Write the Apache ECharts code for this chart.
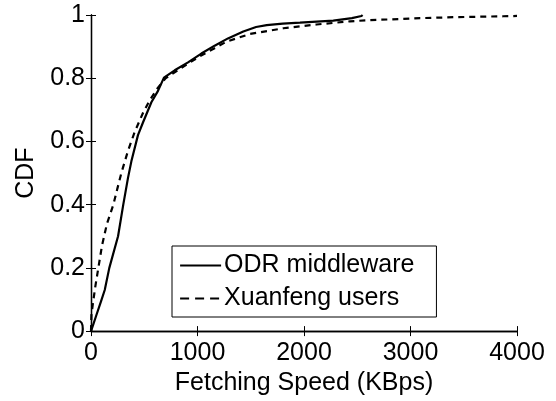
<!DOCTYPE html>
<html>
<head>
<meta charset="utf-8">
<script src="https://cdn.jsdelivr.net/npm/echarts@6/dist/echarts.min.js"></script>
<style>
  html, body { margin: 0; padding: 0; background: #fff; }
  #chart { width: 556px; height: 401px; }
</style>
</head>
<body>
<div id="chart"></div>
<script>
// CDF of fetching speed (KBps)
const odrSpeed = [0, 20, 47, 94, 129, 172, 254, 303, 347, 379, 441, 488, 567, 629, 685, 786, 911, 1036, 1161, 1286, 1430, 1550, 1650, 1800, 1962, 2275, 2450, 2540, 2550];
const odrCdf   = [0, 0.02, 0.047, 0.094, 0.13, 0.2, 0.3, 0.4, 0.484, 0.537, 0.62, 0.66, 0.724, 0.76, 0.802, 0.825, 0.85, 0.878, 0.903, 0.926, 0.948, 0.962, 0.968, 0.973, 0.976, 0.982, 0.99, 0.997, 1.0];

const xfSpeed = [0, 4, 15, 40, 69, 103, 150, 210, 247, 285, 347, 410, 488, 551, 629, 700, 800, 911, 1000, 1100, 1274, 1493, 1806, 2119, 2432, 2620, 2808, 3089, 3403, 3869, 4000];
const xfCdf   = [0, 0.05, 0.08, 0.14, 0.2, 0.27, 0.34, 0.4, 0.45, 0.5, 0.57, 0.63, 0.69, 0.73, 0.77, 0.8, 0.822, 0.846, 0.865, 0.884, 0.916, 0.94, 0.958, 0.97, 0.98, 0.984, 0.986, 0.99, 0.993, 0.996, 0.997];

const xTicks = [0, 1000, 2000, 3000, 4000];
const yTicks = [0, 0.2, 0.4, 0.6, 0.8, 1];

const seriesNames = ['ODR middleware', 'Xuanfeng users'];

const FONT = 'Liberation Sans';
const FS = 25;
const pairs = (xs, ys) => xs.map((x, i) => [x, ys[i]]);

// Frame axes: ticks point inward on all four sides, no grid
const boxAxis = (extra) => Object.assign({
  type: 'value',
  axisLine: { show: true, lineStyle: { color: '#000', width: 1.3 } },
  axisTick: { show: true, inside: true, length: 5, lineStyle: { color: '#000', width: 1 } },
  splitLine: { show: false },
  axisLabel: { show: false }
}, extra);

const chart = echarts.init(document.getElementById('chart'), null, { renderer: 'canvas' });
chart.setOption({
  backgroundColor: '#fff',
  animation: false,
  grid: { left: 91, right: 39, top: 15, bottom: 66, containLabel: false },
  xAxis: [
    boxAxis({
      position: 'bottom', min: xTicks[0], max: xTicks[xTicks.length - 1], interval: 1000,
      name: 'Fetching Speed (KBps)', nameLocation: 'middle', nameGap: 30,
      nameTextStyle: { fontFamily: FONT, fontSize: FS, color: '#000' },
      axisLabel: { show: true, margin: 10, fontFamily: FONT, fontSize: FS, color: '#000',
                   formatter: v => String(v) }
    }),
    boxAxis({ position: 'top', min: xTicks[0], max: xTicks[xTicks.length - 1], interval: 1000 })
  ],
  yAxis: [
    boxAxis({
      position: 'left', min: yTicks[0], max: yTicks[yTicks.length - 1], interval: 0.2,
      name: 'CDF', nameLocation: 'middle', nameGap: 52, nameRotate: 90,
      nameTextStyle: { fontFamily: FONT, fontSize: FS, color: '#000' },
      axisLabel: { show: true, margin: 6, fontFamily: FONT, fontSize: FS, color: '#000',
                   formatter: v => String(+v.toFixed(1)) }
    }),
    boxAxis({ position: 'right', min: yTicks[0], max: yTicks[yTicks.length - 1], interval: 0.2 })
  ],
  legend: {
    data: [
      { name: seriesNames[0] },
      { name: seriesNames[1], lineStyle: { type: [9, 6] } }
    ],
    orient: 'vertical',
    left: 172, top: 246,
    padding: [7, 22, 6, 7],
    itemGap: 8,
    itemWidth: 41,
    itemHeight: 14,
    borderColor: '#000',
    borderWidth: 1,
    borderRadius: 0,
    backgroundColor: '#fff',
    itemStyle: { opacity: 0 },
    lineStyle: { width: 2.2 },
    textStyle: { fontFamily: FONT, fontSize: FS, color: '#000', padding: [0, 0, 0, -2] }
  },
  series: [
    {
      name: seriesNames[0], type: 'line', xAxisIndex: 0, yAxisIndex: 0,
      data: pairs(odrSpeed, odrCdf), showSymbol: false, symbol: 'none',
      lineStyle: { color: '#000', width: 2.2, type: 'solid' },
      itemStyle: { color: '#000' }
    },
    {
      name: seriesNames[1], type: 'line', xAxisIndex: 0, yAxisIndex: 0,
      data: pairs(xfSpeed, xfCdf), showSymbol: false, symbol: 'none',
      lineStyle: { color: '#000', width: 2.2, type: [6, 5] },
      itemStyle: { color: '#000' }
    }
  ]
});
</script>
</body>
</html>
